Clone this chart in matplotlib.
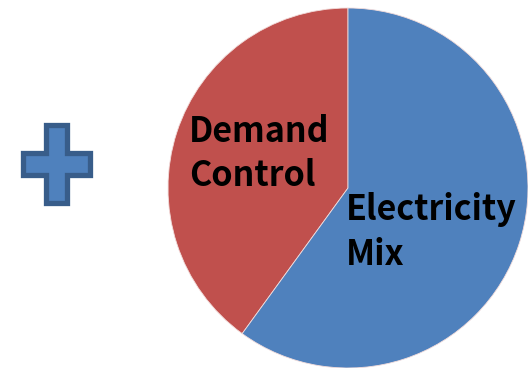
import matplotlib.pyplot as plt
from matplotlib.patches import Polygon

# slices, in drawing order from 12 o'clock going counter-clockwise
labels = ['Demand\nControl', 'Electricity\nMix']
shares = [40, 60]
colors = ['#C0504D', '#4F81BD']

W, H = 528, 368
fig = plt.figure(figsize=(W / 100, H / 100), dpi=100)
ax = fig.add_axes([0, 0, 1, 1])

ax.pie(shares, colors=colors, startangle=90, counterclock=True,
       center=(348, H - 188), radius=180,
       wedgeprops=dict(edgecolor='#F2DCDB', linewidth=0.6))
ax.set_xlim(0, W)
ax.set_ylim(0, H)
ax.set_aspect('equal')
ax.axis('off')

# slice labels
font = dict(fontsize=24.5, fontweight='bold', color='black',
            family=['Noto Sans CJK KR', 'DejaVu Sans'],
            ha='left', va='baseline')
ax.text(189, H - 142, 'Demand', **font)
ax.text(189, H - 186, 'Control', **font)
ax.text(346, H - 220, 'Electricity', **font)
ax.text(346, H - 265, 'Mix', **font)

# plus sign on the left
xs = [22.5, 45.5, 66.5, 89.5]
ys = [124.5, 152.5, 174.5, 202.5]
pts = [(xs[1], ys[0]), (xs[2], ys[0]), (xs[2], ys[1]), (xs[3], ys[1]),
       (xs[3], ys[2]), (xs[2], ys[2]), (xs[2], ys[3]), (xs[1], ys[3]),
       (xs[1], ys[2]), (xs[0], ys[2]), (xs[0], ys[1]), (xs[1], ys[1])]
plus = Polygon([(x, H - y) for x, y in pts], closed=True,
               facecolor='#4F81BD', edgecolor='#385D8A',
               linewidth=3.8, joinstyle='miter')
ax.add_patch(plus)

fig.savefig('out.png', dpi=100)
